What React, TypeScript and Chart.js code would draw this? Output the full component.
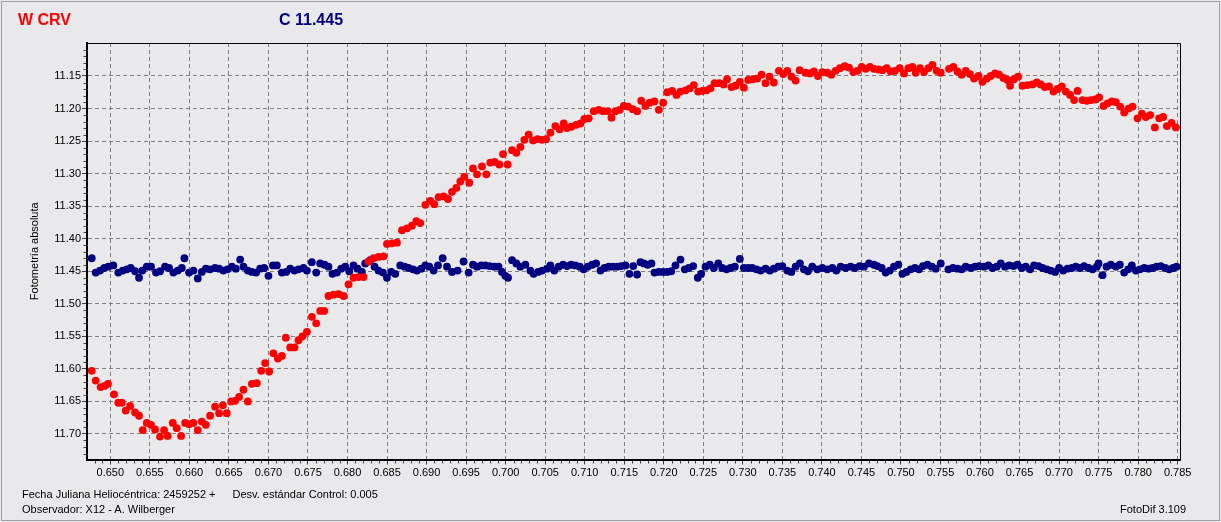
import React, { useEffect, useRef } from "react";
import { Chart, registerables } from "chart.js";

Chart.register(...registerables);

// Variable star (W CRV) – heliocentric JD fraction
const varTime = [
  0.64765, 0.64815, 0.64878, 0.6493, 0.6497, 0.65047, 0.651, 0.65144, 0.65195, 0.6525,
  0.65313, 0.65363, 0.6541, 0.65461, 0.65515, 0.65566, 0.65629, 0.6568, 0.65726, 0.6579,
  0.6584, 0.65895, 0.65946, 0.65996, 0.6605, 0.66106, 0.66157, 0.66208, 0.66262, 0.66325,
  0.66376, 0.66423, 0.66473, 0.66528, 0.66578, 0.66629, 0.66684, 0.66739, 0.6679, 0.66853,
  0.66908, 0.66958, 0.67009, 0.67063, 0.67119, 0.6717, 0.6722, 0.67275, 0.6733, 0.6738,
  0.6743, 0.67486, 0.6755, 0.67604, 0.67655, 0.67705, 0.6776, 0.67823, 0.67886, 0.6795,
  0.68013, 0.68076, 0.68139, 0.68203, 0.68266, 0.68329, 0.68392, 0.68456, 0.68499, 0.68562,
  0.68625,
  0.68689, 0.68752, 0.68815, 0.6887, 0.6892, 0.68984, 0.69047, 0.69097, 0.69152, 0.69215,
  0.69271, 0.69322, 0.69376, 0.69427, 0.69477, 0.6954, 0.69587, 0.69638, 0.69701, 0.69756,
  0.69806, 0.69861, 0.6992, 0.69967, 0.70025, 0.70081, 0.70135, 0.70186, 0.70237, 0.70291,
  0.70347, 0.70405, 0.70461, 0.70512, 0.70566, 0.70629, 0.70684, 0.70735, 0.70777, 0.70832,
  0.70891, 0.70946, 0.70996, 0.71051, 0.71114, 0.71177, 0.71233, 0.71291, 0.71338, 0.71389,
  0.71443, 0.71494, 0.71549, 0.71608, 0.71663, 0.71714, 0.71768, 0.71823, 0.71882, 0.71937,
  0.71992, 0.72043, 0.72106, 0.72161, 0.72211, 0.72275, 0.72329, 0.7238, 0.72435, 0.72486,
  0.7254, 0.72591, 0.72643, 0.72703, 0.72757, 0.728, 0.72857, 0.72907, 0.72962, 0.73013,
  0.73068, 0.73127, 0.73182, 0.73237, 0.73287, 0.73338, 0.73392, 0.73456, 0.73511, 0.73562,
  0.73616, 0.73667, 0.73718,
  0.73794, 0.73848, 0.73899, 0.7395, 0.74005, 0.74068, 0.74119, 0.74173, 0.74228, 0.74288,
  0.74342, 0.74398, 0.74449, 0.74503, 0.74554, 0.74608, 0.74659, 0.74714, 0.74765, 0.74819,
  0.7487, 0.74924, 0.74984, 0.75038, 0.75094, 0.75144, 0.75186, 0.75241, 0.75292, 0.75347,
  0.75398, 0.75452, 0.75503, 0.75608, 0.75663, 0.75714, 0.75768, 0.75819, 0.75873, 0.75924,
  0.7598, 0.7603, 0.76085, 0.76135, 0.7619, 0.76241, 0.76296, 0.76347, 0.7638, 0.7643,
  0.76481, 0.76537, 0.766, 0.76663, 0.76718, 0.76768, 0.76819, 0.76873, 0.76929, 0.7698,
  0.77034, 0.77085, 0.77139, 0.7719, 0.77233, 0.77296, 0.77351, 0.77401, 0.77456, 0.77506,
  0.77562, 0.77613, 0.77667, 0.77718, 0.77772, 0.77823, 0.77878, 0.77929, 0.77992, 0.78047,
  0.78097, 0.78152, 0.78211, 0.78266, 0.78316, 0.78363, 0.78423, 0.78477,
];

const varMag = [
  11.603, 11.618, 11.628, 11.626, 11.623, 11.639, 11.652, 11.652, 11.664, 11.657,
  11.667, 11.672, 11.694, 11.683, 11.686, 11.693, 11.704, 11.694, 11.703, 11.683,
  11.691, 11.703, 11.683, 11.685, 11.683, 11.694, 11.681, 11.686, 11.672, 11.658,
  11.668, 11.656, 11.668, 11.65, 11.649, 11.643, 11.632, 11.65, 11.623, 11.622,
  11.603, 11.591, 11.604, 11.576, 11.584, 11.58, 11.552, 11.567, 11.567, 11.556,
  11.55, 11.543, 11.52, 11.53, 11.511, 11.511, 11.488, 11.486, 11.485, 11.488,
  11.47, 11.46, 11.459, 11.459, 11.435, 11.43, 11.428, 11.427, 11.408, 11.407,
  11.406,
  11.387, 11.384, 11.38, 11.373, 11.376, 11.348, 11.342, 11.347, 11.336, 11.335,
  11.339, 11.328, 11.322, 11.312, 11.305, 11.314, 11.292, 11.301, 11.289, 11.301,
  11.283, 11.282, 11.286, 11.27, 11.286, 11.264, 11.268, 11.259, 11.248, 11.24,
  11.249, 11.247, 11.248, 11.247, 11.237, 11.227, 11.232, 11.223, 11.23, 11.228,
  11.225, 11.223, 11.216, 11.215, 11.204, 11.202, 11.204, 11.204, 11.214, 11.204,
  11.202, 11.196, 11.197, 11.201, 11.204, 11.188, 11.196, 11.191, 11.189, 11.202,
  11.191, 11.175, 11.173, 11.179, 11.174, 11.172, 11.169, 11.164, 11.174, 11.173,
  11.172, 11.169, 11.161, 11.161, 11.163, 11.155, 11.167, 11.165, 11.159, 11.168,
  11.156, 11.155, 11.154, 11.148, 11.161, 11.151, 11.16, 11.142, 11.147, 11.142,
  11.151, 11.157, 11.141,
  11.145, 11.146, 11.143, 11.15, 11.144, 11.145, 11.148, 11.142, 11.138, 11.135,
  11.137, 11.144, 11.142, 11.136, 11.139, 11.136, 11.139, 11.14, 11.141, 11.138,
  11.143, 11.142, 11.138, 11.146, 11.138, 11.136, 11.145, 11.138, 11.144, 11.138,
  11.133, 11.142, 11.145, 11.139, 11.136, 11.143, 11.148, 11.142, 11.147, 11.154,
  11.15, 11.159, 11.154, 11.15, 11.146, 11.148, 11.153, 11.156, 11.165, 11.155,
  11.151, 11.165, 11.164, 11.163, 11.16, 11.163, 11.167, 11.166, 11.174, 11.17,
  11.166, 11.174, 11.179, 11.187, 11.173, 11.187, 11.188, 11.187, 11.186, 11.183,
  11.196, 11.192, 11.189, 11.19, 11.197, 11.206, 11.2, 11.197, 11.215, 11.208,
  11.213, 11.21, 11.229, 11.215, 11.213, 11.227, 11.222, 11.229,
];

// Check / comparison star (C 11.445)
const chkTime = [
  0.64765, 0.64815, 0.6487, 0.64924, 0.64975, 0.65038, 0.65101, 0.65157, 0.65208, 0.65258,
  0.65313, 0.65363, 0.65405, 0.65461, 0.65515, 0.65578, 0.65629, 0.65692, 0.65743, 0.65797,
  0.65853, 0.65904, 0.65937, 0.65996, 0.66051, 0.66106, 0.66157, 0.66208, 0.66262, 0.66325,
  0.66376, 0.6643, 0.66481, 0.66537, 0.66587, 0.66642, 0.66684, 0.66739, 0.6679, 0.66844,
  0.66895, 0.66946, 0.67, 0.67056, 0.67106, 0.6717, 0.67224, 0.67275, 0.67329, 0.6738,
  0.67443, 0.67486, 0.67549, 0.67604, 0.67654, 0.67709, 0.67759, 0.6781, 0.67866, 0.6792,
  0.67971, 0.68022, 0.68076, 0.68127, 0.68182, 0.68224, 0.68287, 0.68342, 0.68392, 0.68448,
  0.68499, 0.68553, 0.68604, 0.68667, 0.68722, 0.68772, 0.68828, 0.68878, 0.68933, 0.68984,
  0.69034, 0.69089, 0.69144, 0.69203, 0.69258, 0.69322,
  0.69392, 0.69468, 0.69532, 0.69587, 0.69638, 0.69692, 0.69743, 0.69797, 0.69857, 0.69911,
  0.69954, 0.69996, 0.7003, 0.70081, 0.70135, 0.70186, 0.70249, 0.70313, 0.70354, 0.7041,
  0.70461, 0.70524, 0.70566, 0.70616, 0.70671, 0.70727, 0.70777, 0.70828, 0.70882, 0.70937,
  0.70987, 0.71038, 0.71094, 0.71144, 0.71199, 0.71249, 0.71304, 0.71354, 0.7141, 0.71461,
  0.71515, 0.71566, 0.71613, 0.71663, 0.71705, 0.71747, 0.71797, 0.71844, 0.71882, 0.71937,
  0.71992, 0.72043, 0.72094, 0.72148, 0.72211, 0.72266, 0.72316, 0.72372, 0.7243, 0.72473,
  0.72528, 0.72582, 0.72633, 0.72689, 0.72739, 0.72794, 0.72844, 0.72899, 0.72962, 0.73013,
  0.73068, 0.73119, 0.73173, 0.73224, 0.73287, 0.73342, 0.73392, 0.73448, 0.73499, 0.73562,
  0.73613, 0.73667, 0.73722, 0.73772, 0.73823, 0.73878, 0.73942,
  0.74005, 0.74068, 0.74132, 0.74182, 0.74237, 0.743, 0.74363, 0.74418, 0.74477, 0.74532,
  0.74595, 0.74658, 0.74701, 0.74756, 0.74806, 0.74857, 0.74911, 0.74967, 0.75018, 0.75068,
  0.75123, 0.75177, 0.75228, 0.75278, 0.75334, 0.75389, 0.75439, 0.75503, 0.756, 0.75658,
  0.75714, 0.75768, 0.75819, 0.75882, 0.75937, 0.75987, 0.76051, 0.76106, 0.76157, 0.76211,
  0.76262, 0.76316, 0.76367, 0.76423, 0.76473, 0.76528, 0.76578, 0.76633, 0.76684, 0.76739,
  0.7679, 0.76844, 0.76895, 0.76949, 0.77, 0.77051, 0.77106, 0.77161, 0.77211, 0.77266,
  0.77316, 0.77372, 0.77423, 0.77477, 0.77499, 0.77549, 0.776, 0.77654, 0.77718, 0.77768,
  0.77823, 0.77873, 0.7792, 0.77971, 0.78022, 0.78076, 0.78132, 0.78182, 0.78233, 0.78287,
  0.78342, 0.78392, 0.78443, 0.78486,
];

const chkMag = [
  11.43, 11.452, 11.449, 11.445, 11.443, 11.441, 11.452, 11.449, 11.447, 11.445,
  11.45, 11.46, 11.449, 11.443, 11.443, 11.452, 11.45, 11.443, 11.445, 11.452,
  11.449, 11.445, 11.43, 11.452, 11.449, 11.461, 11.451, 11.446, 11.447, 11.445,
  11.446, 11.449, 11.447, 11.443, 11.446, 11.432, 11.443, 11.449, 11.451, 11.452,
  11.446, 11.445, 11.457, 11.441, 11.441, 11.452, 11.451, 11.446, 11.449, 11.447,
  11.445, 11.449, 11.436, 11.452, 11.438, 11.44, 11.443, 11.454, 11.452, 11.446,
  11.443, 11.45, 11.441, 11.446, 11.451, 11.438, 11.433, 11.443, 11.449, 11.452,
  11.46, 11.451, 11.454, 11.441, 11.443, 11.445, 11.447, 11.449, 11.446, 11.441,
  11.443, 11.449, 11.441, 11.43, 11.443, 11.451,
  11.449, 11.435, 11.452, 11.44, 11.443, 11.441, 11.441, 11.442, 11.443, 11.443,
  11.451, 11.457, 11.46, 11.433, 11.438, 11.443, 11.44, 11.449, 11.454, 11.451,
  11.449, 11.446, 11.441, 11.449, 11.443, 11.44, 11.442, 11.44, 11.441, 11.443,
  11.447, 11.443, 11.44, 11.438, 11.449, 11.445, 11.443, 11.443, 11.443, 11.442,
  11.441, 11.454, 11.442, 11.455, 11.436, 11.438, 11.44, 11.438, 11.452, 11.451,
  11.451, 11.451, 11.45, 11.441, 11.432, 11.447, 11.445, 11.442, 11.46, 11.454,
  11.443, 11.44, 11.445, 11.438, 11.445, 11.447, 11.445, 11.443, 11.431, 11.445,
  11.445, 11.445, 11.447, 11.449, 11.446, 11.449, 11.446, 11.443, 11.442, 11.449,
  11.451, 11.443, 11.438, 11.447, 11.45, 11.443, 11.447,
  11.445, 11.447, 11.445, 11.449, 11.443, 11.445, 11.443, 11.445, 11.442, 11.443,
  11.438, 11.44, 11.442, 11.445, 11.452, 11.449, 11.443, 11.44, 11.454, 11.451,
  11.447, 11.445, 11.447, 11.442, 11.44, 11.443, 11.446, 11.438, 11.447, 11.445,
  11.446, 11.447, 11.443, 11.445, 11.443, 11.442, 11.443, 11.441, 11.445, 11.443,
  11.438, 11.443, 11.441, 11.442, 11.44, 11.445, 11.443, 11.447, 11.441, 11.442,
  11.445, 11.447, 11.449, 11.451, 11.445, 11.449, 11.446, 11.445, 11.443, 11.445,
  11.442, 11.445, 11.447, 11.443, 11.438, 11.456, 11.443, 11.44, 11.443, 11.44,
  11.452, 11.447, 11.441, 11.449, 11.447, 11.445, 11.446, 11.445, 11.443, 11.442,
  11.445, 11.447, 11.445, 11.443,
];

const xTicks = [
  0.65, 0.655, 0.66, 0.665, 0.67, 0.675, 0.68, 0.685, 0.69, 0.695,
  0.7, 0.705, 0.71, 0.715, 0.72, 0.725, 0.73, 0.735, 0.74, 0.745,
  0.75, 0.755, 0.76, 0.765, 0.77, 0.775, 0.78, 0.785,
];
const yTicks = [11.15, 11.2, 11.25, 11.3, 11.35, 11.4, 11.45, 11.5, 11.55, 11.6, 11.65, 11.7];

const xMin = 0.64705;
const xMax = 0.78529;
const yMin = 11.0993;
const yMax = 11.7392;

const FONT = "'Liberation Sans', Arial, Helvetica, sans-serif";
const BG = "#E9E9EB";

const framePlugin = {
  id: "frameAndMinorTicks",
  afterDraw(chart: any) {
    const { ctx, chartArea: a, scales } = chart;
    const xs = scales.x;
    const ys = scales.y;
    ctx.save();
    ctx.strokeStyle = "#000";
    ctx.lineWidth = 1;
    const top = Math.floor(a.top) + 0.5;
    const right = Math.floor(a.right) + 0.5;
    ctx.beginPath();
    ctx.moveTo(a.left, top);
    ctx.lineTo(right, top);
    ctx.lineTo(right, a.bottom);
    ctx.stroke();

    ctx.strokeStyle = "#404040";
    ctx.beginPath();
    for (let k = 648; k <= 785; k++) {
      if (k % 5 === 0) continue;
      const px = Math.round(xs.getPixelForValue(k / 1000)) + 0.5;
      ctx.moveTo(px, a.bottom + 1.5);
      ctx.lineTo(px, a.bottom + 4);
    }
    for (let k = 1110; k <= 1173; k++) {
      if (k % 5 === 0) continue;
      const py = Math.round(ys.getPixelForValue(k / 100)) + 0.5;
      ctx.moveTo(a.left - 1, py);
      ctx.lineTo(a.left - 3.5, py);
    }
    ctx.stroke();
    ctx.restore();
  },
};

export default function App() {
  const canvasRef = useRef<HTMLCanvasElement | null>(null);

  useEffect(() => {
    document.body.style.margin = "0";
    const canvas = canvasRef.current;
    if (!canvas) return;
    const varData = varTime.map((t, i) => ({ x: t, y: varMag[i] }));
    const chkData = chkTime.map((t, i) => ({ x: t, y: chkMag[i] }));

    const chart = new Chart(canvas, {
      type: "scatter",
      data: {
        datasets: [
          {
            label: "W CRV",
            data: varData,
            backgroundColor: "#FF0000",
            borderColor: "#FF0000",
            pointRadius: 3.9,
            pointBorderWidth: 0,
            pointHoverRadius: 3.9,
          },
          {
            label: "C 11.445",
            data: chkData,
            backgroundColor: "#000080",
            borderColor: "#000080",
            pointRadius: 3.9,
            pointBorderWidth: 0,
            pointHoverRadius: 3.9,
          },
        ],
      },
      options: {
        animation: false,
        responsive: false,
        devicePixelRatio: 1,
        events: [],
        layout: { padding: { left: 0, top: 43, right: 41, bottom: 32.5 } },
        plugins: {
          legend: { display: false },
          tooltip: { enabled: false },
          title: { display: false },
        },
        scales: {
          x: {
            type: "linear",
            position: "bottom",
            min: xMin,
            max: xMax,
            afterBuildTicks: (s: any) => {
              s.ticks = xTicks.map((v) => ({ value: v }));
            },
            afterFit: (s: any) => {
              s.height = 30;
            },
            ticks: {
              autoSkip: false,
              maxRotation: 0,
              minRotation: 0,
              padding: 2,
              color: "#000",
              font: { family: FONT, size: 11 },
              callback: (v: any) => Number(v).toFixed(3),
            },
            grid: {
              color: "#808080",
              lineWidth: 1,
              tickLength: 5,
              tickColor: "#404040",
              drawTicks: true,
            },
            border: { display: true, color: "#000", width: 2, dash: [4, 3] },
          },
          y: {
            type: "linear",
            position: "left",
            reverse: true,
            min: yMin,
            max: yMax,
            afterBuildTicks: (s: any) => {
              s.ticks = yTicks.map((v) => ({ value: v }));
            },
            afterFit: (s: any) => {
              s.width = 87;
            },
            ticks: {
              autoSkip: false,
              padding: 1,
              color: "#000",
              font: { family: FONT, size: 11 },
              callback: (v: any) => Number(v).toFixed(2),
            },
            grid: {
              color: "#808080",
              lineWidth: 1,
              tickLength: 5,
              tickColor: "#404040",
              drawTicks: true,
            },
            border: { display: true, color: "#000", width: 2, dash: [4, 3] },
            title: {
              display: true,
              text: "Fotometría absoluta",
              color: "#000",
              font: { family: FONT, size: 11 },
              padding: { top: 28, bottom: 0 },
            },
          },
        },
      },
      plugins: [framePlugin],
    } as any);

    return () => {
      chart.destroy();
    };
  }, []);

  const textBase: React.CSSProperties = {
    position: "absolute",
    whiteSpace: "nowrap",
    fontFamily: FONT,
    margin: 0,
  };
  const small: React.CSSProperties = {
    ...textBase,
    fontSize: "11px",
    lineHeight: "11px",
    color: "#000",
  };
  const big: React.CSSProperties = {
    ...textBase,
    fontSize: "16px",
    lineHeight: "16px",
    fontWeight: "bold",
  };

  return (
    <div
      style={{
        position: "relative",
        width: 1221,
        height: 522,
        background: BG,
        overflow: "hidden",
      }}
    >
      <div
        style={{
          position: "absolute",
          left: 1,
          top: 1,
          width: 1217,
          height: 518,
          border: "1px solid #A0A0A0",
        }}
      />
      <canvas
        ref={canvasRef}
        width={1221}
        height={522}
        style={{ position: "absolute", left: 0, top: 0, width: 1221, height: 522 }}
      />
      <div style={{ ...big, left: 18, top: 11.5, color: "#FF0000" }}>W CRV</div>
      <div style={{ ...big, left: 279, top: 11.5, color: "#000080" }}>C 11.445</div>
      <div style={{ ...small, left: 22, top: 488.7 }}>Fecha Juliana Heliocéntrica: 2459252 +</div>
      <div style={{ ...small, left: 232.5, top: 488.7 }}>Desv. estándar Control: 0.005</div>
      <div style={{ ...small, left: 22, top: 504 }}>Observador: X12 - A. Wilberger</div>
      <div style={{ ...small, left: 1120, top: 504 }}>FotoDif 3.109</div>
    </div>
  );
}
